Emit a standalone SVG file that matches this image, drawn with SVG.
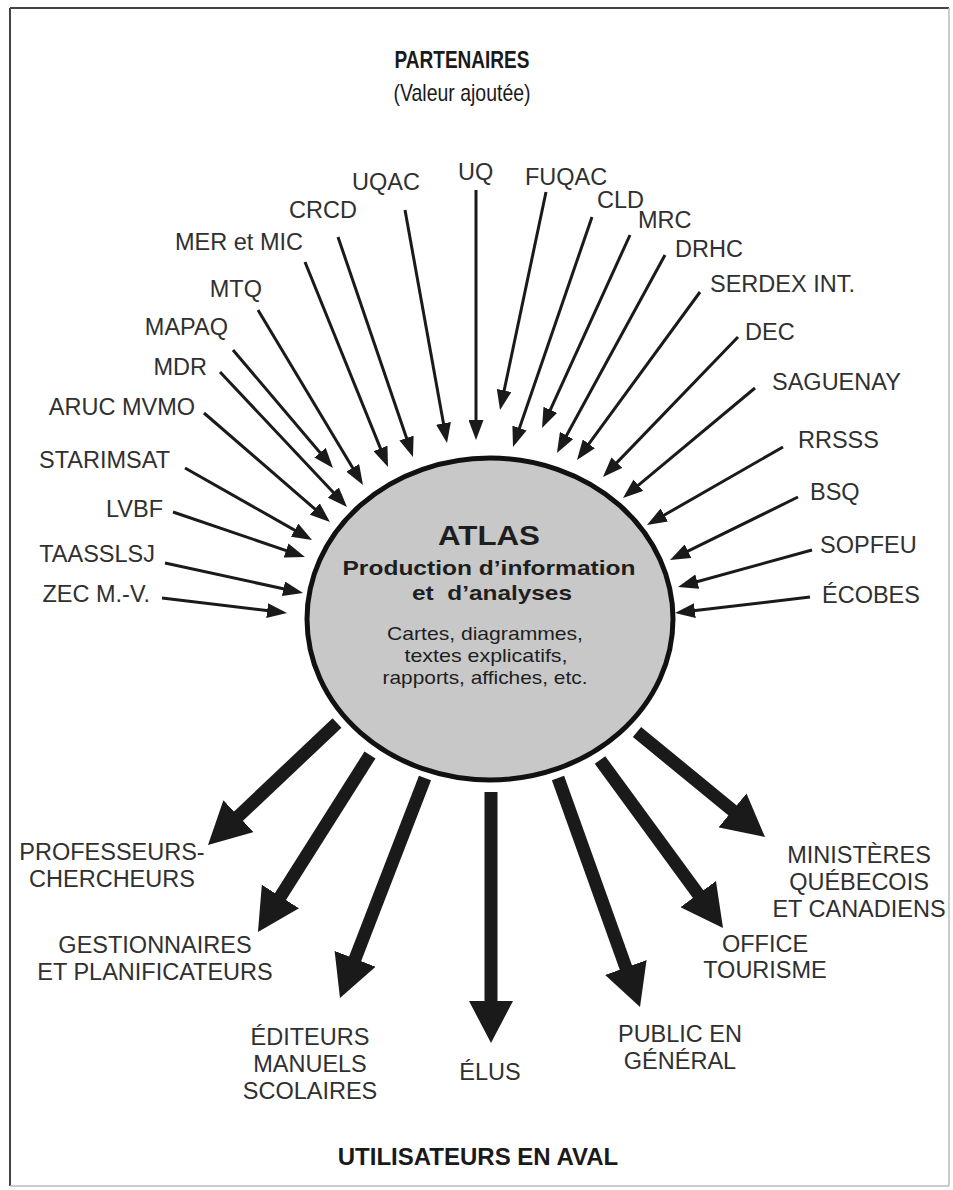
<svg xmlns="http://www.w3.org/2000/svg" width="953" height="1190" viewBox="0 0 953 1190">
<defs>
<style>
.lbl{font-family:"Liberation Sans",Arial,sans-serif;font-size:23.5px;fill:#303030}
.ttl{font-family:"Liberation Sans",Arial,sans-serif;font-size:24px;fill:#1a1a1a}
.b{font-weight:bold}
.ctr{font-family:"Liberation Sans",Arial,sans-serif;fill:#1e1e1e;text-anchor:middle}
.thin{stroke:#1a1a1a;stroke-width:3;fill:none;marker-end:url(#ah)}
.thick{stroke:#1a1a1a;stroke-width:13;fill:none;marker-end:url(#bh)}
.e{text-anchor:end}
.m{text-anchor:middle}
</style>
<marker id="ah" viewBox="0 -7.5 20 15" refX="8" refY="0" markerWidth="20" markerHeight="15" markerUnits="userSpaceOnUse" orient="auto"><path d="M0,-7.5 L20,0 L0,7.5 Z" fill="#1a1a1a"/></marker>
<marker id="bh" viewBox="0 -22 42 44" refX="12" refY="0" markerWidth="42" markerHeight="44" markerUnits="userSpaceOnUse" orient="auto"><path d="M0,-22 L42,0 L0,22 Z" fill="#1a1a1a"/></marker>
</defs>
<rect x="0" y="0" width="953" height="1190" fill="#ffffff"/>
<g id="frame">
<line x1="10" y1="8" x2="949" y2="8" stroke="#444" stroke-width="2"/>
<line x1="10" y1="8" x2="10" y2="1186" stroke="#444" stroke-width="2"/>
<line x1="949" y1="8" x2="949" y2="1186" stroke="#bbb" stroke-width="1.5"/>
<line x1="10" y1="1186" x2="949" y2="1186" stroke="#bbb" stroke-width="1.5"/>
</g>
<g id="title-partenaires">
<text class="ttl b m" x="462" y="68" textLength="135" lengthAdjust="spacingAndGlyphs">PARTENAIRES</text>
<text class="ttl m" x="462" y="101" textLength="137" lengthAdjust="spacingAndGlyphs">(Valeur ajoutée)</text>
</g>
<g id="connectors">
<line class="thin" x1="162" y1="598" x2="275.1" y2="611.6"/>
<line class="thin" x1="165" y1="563" x2="291.3" y2="590.5"/>
<line class="thin" x1="173" y1="512" x2="293.6" y2="553.1"/>
<line class="thin" x1="185" y1="468" x2="301.6" y2="534.1"/>
<line class="thin" x1="204" y1="413" x2="320.9" y2="514.2"/>
<line class="thin" x1="220" y1="372" x2="338.8" y2="498.3"/>
<line class="thin" x1="233" y1="350" x2="325.2" y2="458.8"/>
<line class="thin" x1="258" y1="310" x2="356.8" y2="474.7"/>
<line class="thin" x1="305" y1="262" x2="383.5" y2="455.9"/>
<line class="thin" x1="338" y1="237" x2="409.1" y2="445.6"/>
<line class="thin" x1="405" y1="210" x2="444.9" y2="431.2"/>
<line class="thin" x1="476" y1="190" x2="476" y2="428"/>
<line class="thin" x1="546" y1="192" x2="502.5" y2="398.3"/>
<line class="thin" x1="592" y1="217" x2="516.9" y2="435.6"/>
<line class="thin" x1="630" y1="235" x2="547" y2="417.1"/>
<line class="thin" x1="665" y1="255" x2="562.7" y2="442.5"/>
<line class="thin" x1="700" y1="292" x2="584.1" y2="450.3"/>
<line class="thin" x1="738" y1="337" x2="611.3" y2="468.4"/>
<line class="thin" x1="755" y1="388" x2="632.2" y2="490.3"/>
<line class="thin" x1="783" y1="447" x2="657.4" y2="519"/>
<line class="thin" x1="798" y1="497" x2="680.8" y2="554.7"/>
<line class="thin" x1="812" y1="550" x2="689.6" y2="583.8"/>
<line class="thin" x1="810" y1="597" x2="686.9" y2="611.6"/>
<line class="thick" x1="337" y1="723" x2="229.8" y2="824.4"/>
<line class="thick" x1="370" y1="755" x2="274" y2="906.7"/>
<line class="thick" x1="425" y1="778" x2="350.8" y2="970"/>
<line class="thick" x1="491" y1="792" x2="491" y2="1013"/>
<line class="thick" x1="558" y1="778" x2="629.9" y2="978.8"/>
<line class="thick" x1="600" y1="760" x2="705.3" y2="903.8"/>
<line class="thick" x1="637" y1="732" x2="741.8" y2="818"/>
</g>
<g id="atlas">
<ellipse cx="490" cy="619" rx="183" ry="161" fill="#c8c8c8" stroke="#111" stroke-width="5"/>
<text class="ctr b" x="489" y="545" font-size="27" textLength="102" lengthAdjust="spacingAndGlyphs">ATLAS</text>
<text class="ctr b" x="489" y="575" font-size="21" textLength="293" lengthAdjust="spacingAndGlyphs">Production d’information</text>
<text class="ctr b" x="492" y="600" font-size="21" textLength="160" lengthAdjust="spacingAndGlyphs">et&#160; d’analyses</text>
<text class="ctr" x="485" y="640" font-size="19" textLength="196" lengthAdjust="spacingAndGlyphs">Cartes, diagrammes,</text>
<text class="ctr" x="486" y="662" font-size="19" textLength="163" lengthAdjust="spacingAndGlyphs">textes explicatifs,</text>
<text class="ctr" x="485" y="684" font-size="19" textLength="205" lengthAdjust="spacingAndGlyphs">rapports, affiches, etc.</text>
</g>
<g id="p-zec"><text class="lbl e" x="150" y="602">ZEC M.-V.</text></g>
<g id="p-taasslsj"><text class="lbl e" x="155" y="562">TAASSLSJ</text></g>
<g id="p-lvbf"><text class="lbl e" x="163" y="517">LVBF</text></g>
<g id="p-starimsat"><text class="lbl e" x="170" y="468">STARIMSAT</text></g>
<g id="p-aruc"><text class="lbl e" x="195" y="415">ARUC MVMO</text></g>
<g id="p-mdr"><text class="lbl e" x="207" y="375">MDR</text></g>
<g id="p-mapaq"><text class="lbl e" x="228" y="335">MAPAQ</text></g>
<g id="p-mtq"><text class="lbl e" x="262" y="297">MTQ</text></g>
<g id="p-mer"><text class="lbl e" x="303" y="250">MER et MIC</text></g>
<g id="p-crcd"><text class="lbl e" x="357" y="218">CRCD</text></g>
<g id="p-uqac"><text class="lbl e" x="420" y="190">UQAC</text></g>
<g id="p-uq"><text class="lbl" x="458" y="180">UQ</text></g>
<g id="p-fuqac"><text class="lbl" x="525" y="185">FUQAC</text></g>
<g id="p-cld"><text class="lbl" x="597" y="208">CLD</text></g>
<g id="p-mrc"><text class="lbl" x="638" y="228">MRC</text></g>
<g id="p-drhc"><text class="lbl" x="675" y="257">DRHC</text></g>
<g id="p-serdex"><text class="lbl" x="710" y="292">SERDEX INT.</text></g>
<g id="p-dec"><text class="lbl" x="745" y="340">DEC</text></g>
<g id="p-saguenay"><text class="lbl" x="772" y="390">SAGUENAY</text></g>
<g id="p-rrsss"><text class="lbl" x="798" y="448">RRSSS</text></g>
<g id="p-bsq"><text class="lbl" x="810" y="500">BSQ</text></g>
<g id="p-sopfeu"><text class="lbl" x="820" y="553">SOPFEU</text></g>
<g id="p-ecobes"><text class="lbl" x="822" y="603">ÉCOBES</text></g>
<g id="u-professeurs"><text class="lbl m" x="112" y="860">PROFESSEURS-</text><text class="lbl m" x="112" y="887">CHERCHEURS</text></g>
<g id="u-gestionnaires"><text class="lbl m" x="155" y="953">GESTIONNAIRES</text><text class="lbl m" x="155" y="980">ET PLANIFICATEURS</text></g>
<g id="u-editeurs"><text class="lbl m" x="310" y="1045">ÉDITEURS</text><text class="lbl m" x="310" y="1072">MANUELS</text><text class="lbl m" x="310" y="1099">SCOLAIRES</text></g>
<g id="u-elus"><text class="lbl m" x="490" y="1080">ÉLUS</text></g>
<g id="u-public"><text class="lbl m" x="680" y="1042">PUBLIC EN</text><text class="lbl m" x="680" y="1069">GÉNÉRAL</text></g>
<g id="u-office"><text class="lbl m" x="765" y="952">OFFICE</text><text class="lbl m" x="765" y="978">TOURISME</text></g>
<g id="u-ministeres"><text class="lbl m" x="859" y="863">MINISTÈRES</text><text class="lbl m" x="859" y="890">QUÉBECOIS</text><text class="lbl m" x="859" y="917">ET CANADIENS</text></g>
<g id="title-utilisateurs">
<text class="ttl b m" x="478" y="1165">UTILISATEURS EN AVAL</text>
</g>
</svg>
